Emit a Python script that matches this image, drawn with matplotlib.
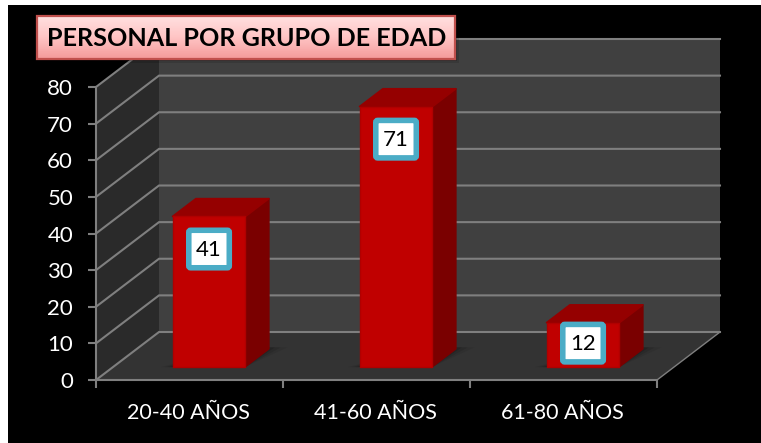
import numpy as np
import matplotlib
matplotlib.use('Agg')
import matplotlib.pyplot as plt
from matplotlib.patches import Polygon, FancyBboxPatch, Rectangle
from matplotlib.colors import LinearSegmentedColormap

categories = ['20-40 AÑOS', '41-60 AÑOS', '61-80 AÑOS']
values = [41, 71, 12]
y_ticks = [0, 10, 20, 30, 40, 50, 60, 70, 80]
title = 'PERSONAL POR GRUPO DE EDAD'

W, H = 761, 443
plt.rcParams['font.family'] = ['Lato', 'DejaVu Sans']

fig = plt.figure(figsize=(W / 100, H / 100), dpi=100, facecolor='white')

# fondo negro
bg = fig.add_axes([0, 0, 1, 1])
bg.set_xlim(0, W)
bg.set_ylim(H, 0)
bg.axis('off')
bg.add_patch(Rectangle((8, 5), W - 8, H - 5, fc='black', ec='none'))

# plano frontal del grafico: x 96-657, y 380-87 px
left, right, y0, y80 = 96, 657, 380, 87
ax = fig.add_axes([left / W, 1 - y0 / H, (right - left) / W, (y0 - y80) / H])
ax.set_xlim(0, 3)
ax.set_ylim(0, 80)
ax.patch.set_alpha(0)
for s in ax.spines.values():
    s.set_visible(False)

# profundidad en unidades de datos
dx = 63 / (right - left) * 3
dy = 48 / (y0 - y80) * 80


def depth(x, y, d):
    return (x + d * dx, y + d * dy)


line_col = '#7f7f7f'
# paredes
ax.add_patch(Polygon([depth(0, 0, 1), depth(3, 0, 1), depth(3, 80, 1), depth(0, 80, 1)],
                     fc='#404040', ec='none', clip_on=False, zorder=1))
ax.add_patch(Polygon([depth(0, 0, 0), depth(0, 0, 1), depth(0, 80, 1), depth(0, 80, 0)],
                     fc='#2a2a2a', ec='none', clip_on=False, zorder=1))
ax.add_patch(Polygon([depth(0, 0, 0), depth(3, 0, 0), depth(3, 0, 1), depth(0, 0, 1)],
                     fc='#333333', ec='none', clip_on=False, zorder=1))

# rejilla
for t in y_ticks:
    xs = [depth(0, t, 0)[0], depth(0, t, 1)[0], depth(3, t, 1)[0]]
    ys = [depth(0, t, 0)[1], depth(0, t, 1)[1], depth(3, t, 1)[1]]
    ax.plot(xs, ys, color=line_col, lw=1.5, clip_on=False, zorder=2, solid_joinstyle='miter')
ax.plot([3, 3 + dx], [0, dy], color=line_col, lw=1, clip_on=False, zorder=2)
ax.plot([0, 0], [0, 80], color=line_col, lw=1.5, clip_on=False, zorder=3)
ax.plot([0, 3], [0, 0], color=line_col, lw=1.5, clip_on=False, zorder=3)

ax.set_xticks([0, 1, 2, 3])
ax.set_xticklabels([])
ax.set_yticks(y_ticks)
ax.set_yticklabels([str(t) for t in y_ticks], color='white', fontsize=16)
ax.tick_params(axis='y', length=5.5, width=1.5, color=line_col, pad=11)
ax.tick_params(axis='x', length=5.5, width=1.5, color=line_col)
for i, c in enumerate(categories):
    ax.annotate(c, (i + 0.5, 0), xytext=(-1, -33), textcoords='offset pixels', ha='center',
                va='center', color='white', fontsize=15.5, annotation_clip=False)

# barras
bar_w = 0.39
d_front, d_back = 0.31, 0.68
drop = 0.4  # las barras quedan un poco mas abajo que el plano
for i, v in enumerate(values):
    xl, xr = i + 0.5 - bar_w / 2, i + 0.5 + bar_w / 2
    lo, hi = -drop, v - drop
    # sombra en el suelo
    for grow, a in zip([1.0, 0.6, 0.25], [0.07, 0.1, 0.14]):
        g = grow * 0.06
        ax.add_patch(Polygon([depth(xl - g, lo, d_front - 0.01), depth(xr, lo, d_front - 0.01),
                              depth(xr + g * 1.5, lo, d_back + 0.03), depth(xl + 0.2, lo, d_back + 0.03)],
                             fc='black', ec='none', alpha=a, clip_on=False, zorder=3))
    # lado
    ax.add_patch(Polygon([depth(xr, lo, d_front), depth(xr, lo, d_back), depth(xr, hi, d_back), depth(xr, hi, d_front)],
                         fc='#7a0000', ec='#7a0000', lw=1.2, joinstyle='round', clip_on=False, zorder=4))
    # tapa
    ax.add_patch(Polygon([depth(xl, hi, d_front), depth(xr, hi, d_front), depth(xr, hi, d_back), depth(xl, hi, d_back)],
                         fc='#950000', ec='#950000', lw=1.2, joinstyle='round', clip_on=False, zorder=4))
    # frente
    ax.add_patch(Polygon([depth(xl, lo, d_front), depth(xr, lo, d_front), depth(xr, hi, d_front), depth(xl, hi, d_front)],
                         fc='#c00000', ec='#b00000', lw=1.0, joinstyle='round', clip_on=False, zorder=5))

# capa superior en pixeles para etiquetas y titulo
top_ax = fig.add_axes([0, 0, 1, 1])
top_ax.axis('off')

# etiquetas de valor
for i, v in enumerate(values):
    cx, top = depth(i + 0.5, v, d_front)
    base = depth(i + 0.5, 0, d_front)[1]
    cy = top - min(9.3, (top - base) / 2)
    px, py = ax.transData.transform((cx, cy))
    py = H - py
    top_ax.add_patch(FancyBboxPatch((px - 20.25, py - 18.75), 40.5, 37.5,
                                    boxstyle='round,pad=0,rounding_size=2',
                                    fc='white', ec='#4bacc6', lw=4, zorder=1))
    top_ax.text(px, py + 1, str(v), ha='center', va='center', color='black', fontsize=16, zorder=2)

# titulo
box_x, box_y, box_w, box_h = 36.5, 15.5, 418, 43
grad = LinearSegmentedColormap.from_list('t', ['#ffe0e0', '#ffc4c4', '#f49a9a'])
for off, a in zip([4, 2.5, 1], [0.12, 0.18, 0.25]):
    top_ax.add_patch(Rectangle((box_x, box_y), box_w + off, box_h + off, fc='black', ec='none',
                               alpha=a, zorder=3))
top_ax.imshow(np.linspace(0, 1, 64).reshape(-1, 1), cmap=grad, aspect='auto',
              extent=[box_x, box_x + box_w, box_y + box_h, box_y], zorder=4)
top_ax.set_xlim(0, W)
top_ax.set_ylim(H, 0)
top_ax.add_patch(Rectangle((box_x, box_y), box_w, box_h, fc='none', ec='#c0504d', lw=1.6, zorder=5))
top_ax.text(246.5, box_y + box_h / 2 + 1.5, title, ha='center', va='center',
            fontsize=18.1, fontweight='bold', color='black', zorder=6)

fig.savefig('out.png', dpi=100)
